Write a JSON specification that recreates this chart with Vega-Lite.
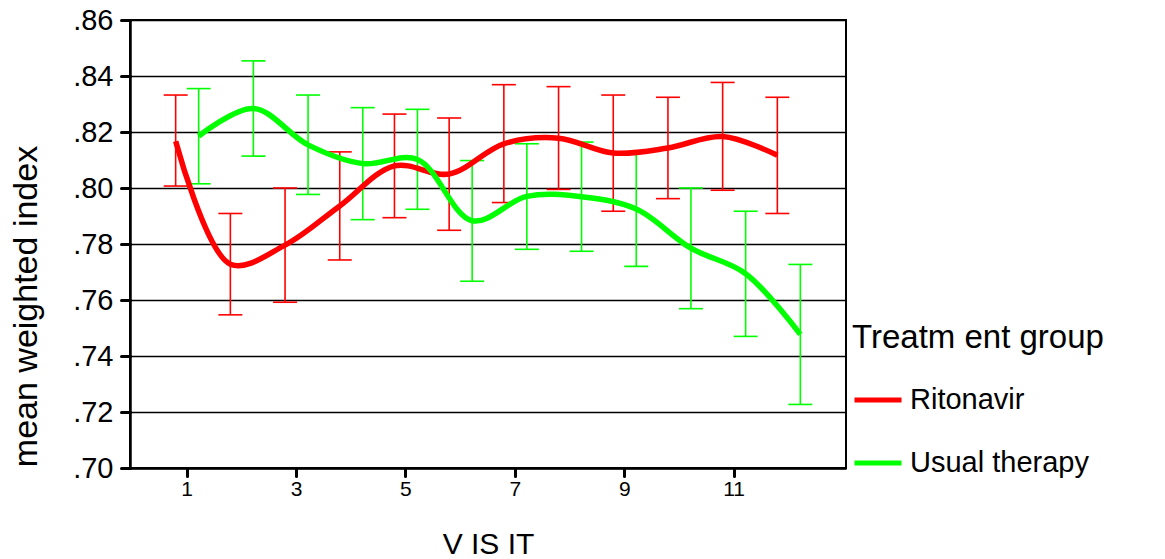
{
  "$schema": "https://vega.github.io/schema/vega-lite/v6.json",
  "width": 716,
  "height": 448,
  "autosize": {"type": "none"},
  "padding": {"left": 130, "top": 20, "right": 319, "bottom": 91},
  "background": "white",
  "config": {
    "view": {"stroke": "black", "strokeWidth": 2},
    "font": "Liberation Sans"
  },
  "data": {
    "values": [
      {"visit": 1, "group": "Ritonavir", "mean": 0.8167, "lo": 0.8007, "hi": 0.8332},
      {"visit": 2, "group": "Ritonavir", "mean": 0.7728, "lo": 0.7547, "hi": 0.7909},
      {"visit": 3, "group": "Ritonavir", "mean": 0.7796, "lo": 0.7592, "hi": 0.8000},
      {"visit": 4, "group": "Ritonavir", "mean": 0.7936, "lo": 0.7743, "hi": 0.8129},
      {"visit": 5, "group": "Ritonavir", "mean": 0.8079, "lo": 0.7894, "hi": 0.8264},
      {"visit": 6, "group": "Ritonavir", "mean": 0.8050, "lo": 0.7849, "hi": 0.8250},
      {"visit": 7, "group": "Ritonavir", "mean": 0.8158, "lo": 0.7948, "hi": 0.8369},
      {"visit": 8, "group": "Ritonavir", "mean": 0.8178, "lo": 0.7995, "hi": 0.8362},
      {"visit": 9, "group": "Ritonavir", "mean": 0.8125, "lo": 0.7917, "hi": 0.8332},
      {"visit": 10, "group": "Ritonavir", "mean": 0.8143, "lo": 0.7962, "hi": 0.8324},
      {"visit": 11, "group": "Ritonavir", "mean": 0.8184, "lo": 0.7992, "hi": 0.8377},
      {"visit": 12, "group": "Ritonavir", "mean": 0.8117, "lo": 0.7909, "hi": 0.8324},
      {"visit": 1, "group": "Usual therapy", "mean": 0.8185, "lo": 0.8015, "hi": 0.8355},
      {"visit": 2, "group": "Usual therapy", "mean": 0.8284, "lo": 0.8114, "hi": 0.8454},
      {"visit": 3, "group": "Usual therapy", "mean": 0.8154, "lo": 0.7977, "hi": 0.8332},
      {"visit": 4, "group": "Usual therapy", "mean": 0.8087, "lo": 0.7887, "hi": 0.8287},
      {"visit": 5, "group": "Usual therapy", "mean": 0.8102, "lo": 0.7924, "hi": 0.8281},
      {"visit": 6, "group": "Usual therapy", "mean": 0.7883, "lo": 0.7667, "hi": 0.8098},
      {"visit": 7, "group": "Usual therapy", "mean": 0.7970, "lo": 0.7781, "hi": 0.8158},
      {"visit": 8, "group": "Usual therapy", "mean": 0.7969, "lo": 0.7774, "hi": 0.8164},
      {"visit": 9, "group": "Usual therapy", "mean": 0.7925, "lo": 0.7720, "hi": 0.8129},
      {"visit": 10, "group": "Usual therapy", "mean": 0.7785, "lo": 0.7569, "hi": 0.8000},
      {"visit": 11, "group": "Usual therapy", "mean": 0.7694, "lo": 0.7470, "hi": 0.7917},
      {"visit": 12, "group": "Usual therapy", "mean": 0.7477, "lo": 0.7227, "hi": 0.7727}
    ]
  },
  "encoding": {
    "x": {
      "field": "visit",
      "type": "ordinal",
      "scale": {"type": "band", "paddingInner": 0, "paddingOuter": 0.545},
      "axis": {
        "title": "V IS IT",
        "values": [1, 3, 5, 7, 9, 11],
        "labelAngle": 0,
        "grid": false,
        "domainColor": "black",
        "domainWidth": 2.5,
        "tickColor": "black",
        "tickWidth": 3,
        "tickSize": 8,
        "tickCap": "round",
        "labelFont": "Liberation Sans",
        "labelFontSize": 21,
        "labelColor": "black",
        "labelPadding": 2,
        "titleFont": "Liberation Sans",
        "titleFontSize": 30,
        "titleFontWeight": "normal",
        "titleColor": "black",
        "titlePadding": 30
      }
    },
    "xOffset": {
      "field": "group",
      "type": "nominal",
      "scale": {"type": "band", "range": [4.35, 50.35], "paddingInner": 0, "paddingOuter": 0}
    },
    "color": {
      "field": "group",
      "type": "nominal",
      "scale": {"domain": ["Ritonavir", "Usual therapy"], "range": ["#ff0000", "#00ff00"]},
      "legend": {
        "title": "Treatm ent group",
        "orient": "none",
        "legendX": 722,
        "legendY": 302,
        "titleFont": "Liberation Sans",
        "titleFontSize": 33,
        "titleFontWeight": "normal",
        "titleColor": "black",
        "titleLimit": 400,
        "titlePadding": 19,
        "labelFont": "Liberation Sans",
        "labelFontSize": 29,
        "labelColor": "black",
        "labelLimit": 400,
        "labelOffset": 6,
        "symbolType": "stroke",
        "symbolStrokeWidth": 5,
        "symbolSize": 2209,
        "rowPadding": 22
      }
    }
  },
  "layer": [
    {
      "mark": {"type": "rule", "strokeWidth": 1.6},
      "encoding": {
        "y": {"field": "lo", "type": "quantitative"},
        "y2": {"field": "hi"}
      }
    },
    {
      "mark": {"type": "tick", "orient": "horizontal", "size": 24, "thickness": 1.6, "opacity": 1},
      "encoding": {
        "y": {"field": "lo", "type": "quantitative"}
      }
    },
    {
      "mark": {"type": "tick", "orient": "horizontal", "size": 24, "thickness": 1.6, "opacity": 1},
      "encoding": {
        "y": {"field": "hi", "type": "quantitative"}
      }
    },
    {
      "mark": {"type": "line", "strokeWidth": 5.5, "interpolate": "catmull-rom"},
      "encoding": {
        "y": {
          "field": "mean",
          "type": "quantitative",
          "scale": {"domain": [0.70, 0.86], "nice": false, "zero": false},
          "axis": {
            "title": "mean weighted index",
            "values": [0.70, 0.72, 0.74, 0.76, 0.78, 0.80, 0.82, 0.84, 0.86],
            "labelExpr": "replace(format(datum.value, '.2f'), '0.', '.')",
            "grid": true,
            "gridColor": "black",
            "gridWidth": 1.5,
            "gridOpacity": 1,
            "domainColor": "black",
            "domainWidth": 2.5,
            "tickColor": "black",
            "tickWidth": 3,
            "tickSize": 9,
            "tickCap": "round",
            "labelFont": "Liberation Sans",
            "labelFontSize": 29,
            "labelColor": "black",
            "labelPadding": 8,
            "titleFont": "Liberation Sans",
            "titleFontSize": 34,
            "titleFontWeight": "normal",
            "titleColor": "black",
            "titlePadding": 29,
            "titleY": 286
          }
        }
      }
    }
  ]
}
